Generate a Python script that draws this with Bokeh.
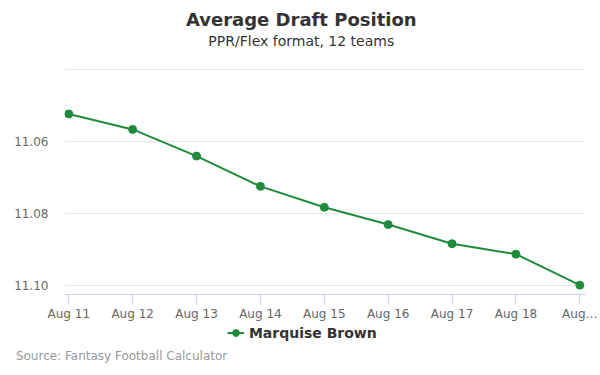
from bokeh.plotting import figure
from bokeh.layouts import column
from bokeh.models import Range1d, FixedTicker, Legend, LegendItem
from bokeh.core.properties import value
from bokeh.embed import file_html
from bokeh.resources import INLINE

# ---- data ----
dates = ["Aug 11", "Aug 12", "Aug 13", "Aug 14", "Aug 15", "Aug 16", "Aug 17", "Aug 18", "Aug…"]
adp = [11.0523, 11.0566, 11.0640, 11.0724, 11.0782, 11.0830, 11.0883, 11.0912, 11.0998]
y_ticks = [11.06, 11.08, 11.10]
grid_ticks = [11.04, 11.06, 11.08, 11.10]
series_name = "Marquise Brown"
title_text = "Average Draft Position"
subtitle_text = "PPR/Flex format, 12 teams"
source_text = "Source: Fantasy Football Calculator"

GREEN = "#1f8b3b"
FONT = "DejaVu Sans"
W = 600
TOP_H, MAIN_H, BOT_H = 68, 256, 51


def blank(height):
    f = figure(width=W, height=height, output_backend="svg", toolbar_location=None,
               x_range=Range1d(0, W), y_range=Range1d(height, 0),
               x_axis_location=None, y_axis_location=None,
               min_border=0, min_border_left=0, min_border_right=0,
               min_border_top=0, min_border_bottom=0, frame_align=False)
    f.grid.visible = False
    f.outline_line_color = None
    f.border_fill_color = "white"
    f.background_fill_color = "white"
    return f


# ---- header ----
top = blank(TOP_H)
top.text(x=[300.8], y=[19], text=[title_text], text_font=value(FONT), text_font_size="18px",
         text_font_style="bold", text_color="#333333", text_align="center", text_baseline="middle")
top.text(x=[300.8], y=[40.7], text=[subtitle_text], text_font=value(FONT), text_font_size="14px",
         text_color="#333333", text_align="center", text_baseline="middle")

# ---- main chart ----
xs = list(range(len(dates)))
p = figure(width=W, height=MAIN_H, output_backend="svg", toolbar_location=None,
           x_range=Range1d(-0.067, 8.089), y_range=Range1d(11.1024, 11.0397),
           min_border_left=64, min_border_right=15, min_border_top=0, min_border_bottom=30,
           frame_align=False)
p.outline_line_color = None
p.background_fill_color = "white"
p.border_fill_color = "white"

line = p.line(xs, adp, line_color=GREEN, line_width=2)
pts = p.scatter(xs, adp, size=8, fill_color=GREEN, line_color=GREEN)

xa = p.xaxis[0]
xa.ticker = FixedTicker(ticks=xs)
xa.major_label_overrides = {i: d for i, d in enumerate(dates)}
xa.axis_line_color = "#ccd6eb"
xa.major_tick_line_color = "#ccd6eb"
xa.major_tick_out = 10
xa.major_tick_in = 0
xa.minor_tick_line_color = None
xa.major_label_standoff = 2
xa.major_label_text_font = FONT
xa.major_label_text_font_size = "12px"
xa.major_label_text_color = "#666666"

ya = p.yaxis[0]
ya.ticker = FixedTicker(ticks=y_ticks)
ya.major_label_overrides = {v: f"{v:.2f}" for v in y_ticks}
ya.axis_line_color = None
ya.major_tick_line_color = None
ya.minor_tick_line_color = None
ya.major_tick_out = 0
ya.major_tick_in = 0
ya.major_label_standoff = 16
ya.major_label_text_font = FONT
ya.major_label_text_font_size = "12px"
ya.major_label_text_color = "#666666"

p.xgrid.grid_line_color = None
p.ygrid.ticker = FixedTicker(ticks=grid_ticks)
p.ygrid.grid_line_color = "#e6e6e6"
p.ygrid.grid_line_width = 1

# ---- footer: legend + source ----
bot = blank(BOT_H)
# proxy renderers (placed off-view) so the legend can show the series symbol
leg_line = bot.line([-1000, -999], [-1000, -999], line_color=GREEN, line_width=2)
leg_pts = bot.scatter([-1000], [-1000], size=8, fill_color=GREEN, line_color=GREEN)
legend = Legend(items=[LegendItem(label=series_name, renderers=[leg_line, leg_pts])],
                location=(226.9, BOT_H - 17.2),
                orientation="horizontal", padding=0, margin=0, spacing=0,
                glyph_width=17, glyph_height=17, label_height=17, label_standoff=5,
                label_text_font=FONT, label_text_font_size="14px",
                label_text_font_style="bold", label_text_color="#333333",
                border_line_color=None, background_fill_alpha=0)
bot.add_layout(legend, "center")
bot.text(x=[15.4], y=[31.7], text=[source_text], text_font=value(FONT), text_font_size="12px",
         text_color="#999999", text_align="left", text_baseline="middle")

layout = column(top, p, bot, spacing=0)
open("out.html", "w").write(file_html(layout, INLINE))
